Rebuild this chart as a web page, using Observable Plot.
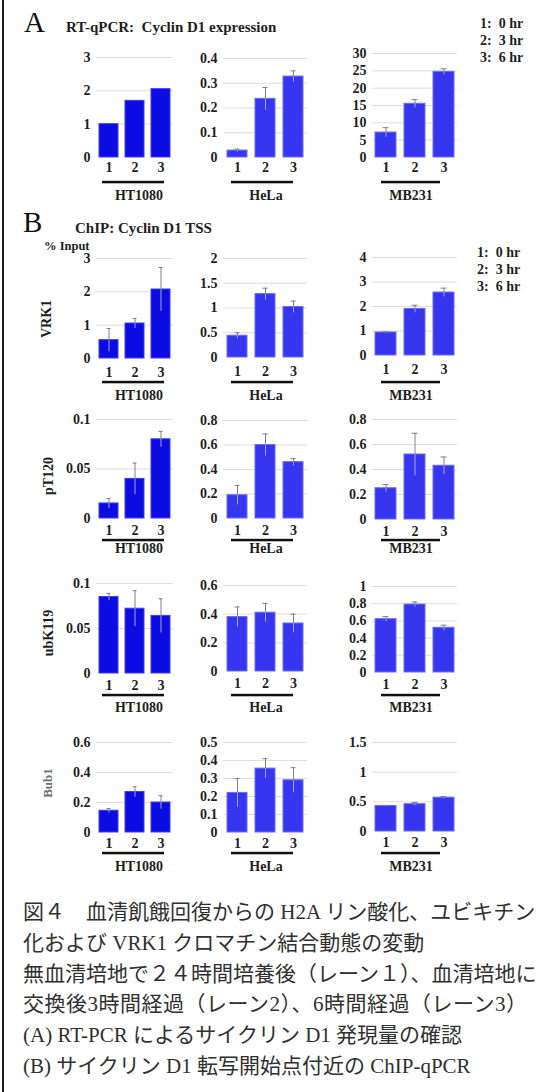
<!DOCTYPE html>
<html><head><meta charset="utf-8">
<script src="https://cdn.jsdelivr.net/npm/d3@7"></script>
<script src="https://cdn.jsdelivr.net/npm/@observablehq/plot@0.6"></script>
<style>
html,body{margin:0;padding:0;background:#fff;}
#fig{position:relative;width:551px;height:1092px;background:#fff;overflow:hidden;}
#fig svg{overflow:visible;}
.cap{position:absolute;left:23px;top:897px;width:504px;font-family:"Liberation Serif","Noto Sans CJK JP",serif;font-size:21px;line-height:30.8px;color:#303030;}
.cap div{white-space:nowrap;}
.cap .j{text-align:justify;text-align-last:justify;}
</style></head>
<body><div id="fig"></div>
<script>
// ---------- data ----------
const lanes = ["1", "2", "3"];
const cellLines = ["HT1080", "HeLa", "MB231"];
const timeLegend = ["1:  0 hr", "2:  3 hr", "3:  6 hr"];
const rowLabels = ["", "VRK1", "pT120", "ubK119", "Bub1"];

// A: RT-qPCR Cyclin D1 expression (HT1080, HeLa, MB231)
const rtqpcrMean  = [[1.0, 1.7, 2.05], [0.028, 0.237, 0.327], [7.2, 15.5, 24.7]];
const rtqpcrErr   = [[0, 0, 0], [0.006, 0.046, 0.023], [1.4, 1.2, 0.9]];
const rtqpcrTicks = [[0, 1, 2, 3], [0, 0.1, 0.2, 0.3, 0.4], [0, 5, 10, 15, 20, 25, 30]];

// B: ChIP VRK1
const vrk1Mean  = [[0.55, 1.05, 2.07], [0.44, 1.28, 1.02], [0.94, 1.9, 2.57]];
const vrk1Err   = [[0.35, 0.15, 0.66], [0.06, 0.12, 0.12], [0.03, 0.15, 0.18]];
const vrk1Ticks = [[0, 1, 2, 3], [0, 0.5, 1, 1.5, 2], [0, 1, 2, 3, 4]];

// B: ChIP pT120
const pt120Mean  = [[0.0152, 0.040, 0.080], [0.19, 0.60, 0.46], [0.25, 0.52, 0.43]];
const pt120Err   = [[0.005, 0.016, 0.008], [0.08, 0.09, 0.03], [0.03, 0.17, 0.07]];
const pt120Ticks = [[0, 0.05, 0.1], [0, 0.2, 0.4, 0.6, 0.8], [0, 0.2, 0.4, 0.6, 0.8]];

// B: ChIP ubK119
const ubk119Mean  = [[0.085, 0.072, 0.064], [0.38, 0.41, 0.335], [0.62, 0.79, 0.52]];
const ubk119Err   = [[0.004, 0.02, 0.019], [0.07, 0.065, 0.065], [0.03, 0.03, 0.03]];
const ubk119Ticks = [[0, 0.05, 0.1], [0, 0.2, 0.4, 0.6], [0, 0.2, 0.4, 0.6, 0.8, 1]];

// B: ChIP Bub1
const bub1Mean  = [[0.145, 0.27, 0.20], [0.22, 0.355, 0.29], [0.43, 0.46, 0.57]];
const bub1Err   = [[0.015, 0.035, 0.045], [0.08, 0.055, 0.07], [0.01, 0.03, 0.02]];
const bub1Ticks = [[0, 0.2, 0.4, 0.6], [0, 0.1, 0.2, 0.3, 0.4, 0.5], [0, 0.5, 1, 1.5]];

const captionLines = [
  "図４　血清飢餓回復からの H2A リン酸化、ユビキチン",
  "化および VRK1 クロマチン結合動態の変動",
  "無血清培地で２４時間培養後（レーン１）、血清培地に",
  "交換後3時間経過（レーン2）、6時間経過（レーン3）",
  "(A) RT-PCR によるサイクリン D1 発現量の確認",
  "(B) サイクリン D1 転写開始点付近の ChIP-qPCR"
];

// ---------- layout ----------
const rows = [
  {mean: rtqpcrMean, err: rtqpcrErr, ticks: rtqpcrTicks},
  {mean: vrk1Mean, err: vrk1Err, ticks: vrk1Ticks},
  {mean: pt120Mean, err: pt120Err, ticks: pt120Ticks},
  {mean: ubk119Mean, err: ubk119Err, ticks: ubk119Ticks},
  {mean: bub1Mean, err: bub1Err, ticks: bub1Ticks}
];
const colX = [[96, 173], [223, 307], [372, 457]];
const rowY = [
  [[57, 157], [58, 157], [53, 157]],
  [[258, 358], [258, 357], [257, 355]],
  [[419, 518], [420, 518], [419, 519]],
  [[583, 673], [585, 671], [586, 672]],
  [[742, 832], [742, 832], [742, 831]]
];
const xLabelPad = [4.5, 8.5, 6.5, 6.5, 5.5];
const underlineY = [182, 382, 540, 695, 853];
const nameY = [200, 400, 553, 712, 871];
const underlineX = [[102, 164], [231, 293], [381, 440]];
const nameX = [139, 266, 411];
const rowLabelPos = [null, [46, 319], [48, 476], [48, 633], [47, 783]];
const justifiedLines = [0, 2, 3];
const fillCol = ["#0b0be2", "#3636f0", "#3636f0"];
const strokeCol = ["#3c3cff", "#6a6aff", "#6a6aff"];

const fig = document.getElementById("fig");
const fmt = d => String(+(+d).toFixed(4));

rows.forEach((row, r) => {
  cellLines.forEach((cl, c) => {
    const data = lanes.map((lane, i) => ({lane, value: row.mean[c][i], err: row.err[c][i]}));
    const errData = data.filter(d => d.err > 0);
    const ticks = row.ticks[c];
    const [x0, x1] = colX[c];
    const [yt, yb] = rowY[r][c];
    const ml = 45, mr = 6, mt = 8, mb = 24;
    const svg = Plot.plot({
      width: x1 - x0 + ml + mr,
      height: yb - yt + mt + mb,
      marginLeft: ml, marginRight: mr, marginTop: mt, marginBottom: mb,
      style: {fontFamily: "'Liberation Serif', serif", fontSize: "14px", fontWeight: "bold", color: "#1e1e1e", background: "transparent", overflow: "visible"},
      x: {domain: lanes, paddingInner: 0.27, paddingOuter: 0.1},
      y: {domain: [0, d3.max(ticks)]},
      marks: [
        Plot.gridY(ticks.filter(t => t > 0), {stroke: "#dedede", strokeOpacity: 1, strokeWidth: 1}),
        Plot.barY(data, {x: "lane", y: "value", fill: fillCol[c], stroke: strokeCol[c], strokeWidth: 1}),
        Plot.ruleX(errData, {x: "lane", y1: "value", y2: d => Math.max(0, d.value - d.err), stroke: "#a4a4e4", strokeWidth: 1}),
        Plot.ruleX(errData, {x: "lane", y1: "value", y2: d => d.value + d.err, stroke: "#7e7e90", strokeWidth: 1}),
        Plot.tickY(errData, {x: "lane", y: d => d.value + d.err, stroke: "#7e7e90", strokeWidth: 1, insetLeft: 7.5, insetRight: 7.5}),
        Plot.axisY(ticks, {tickSize: 0, tickPadding: 6, tickFormat: fmt, label: null}),
        Plot.axisX({tickSize: 0, tickPadding: xLabelPad[r], label: null})
      ]
    });
    svg.style.position = "absolute";
    svg.style.left = (x0 - ml) + "px";
    svg.style.top = (yt - mt) + "px";
    fig.appendChild(svg);
  });
});

// ---------- annotations ----------
const ov = d3.select(fig).append("svg")
  .attr("width", 551).attr("height", 1092)
  .style("position", "absolute").style("left", "0px").style("top", "0px")
  .style("pointer-events", "none")
  .style("font-family", "'Liberation Serif', serif");

ov.append("rect").attr("x", 2).attr("y", 0).attr("width", 2).attr("height", 1092).attr("fill", "#1a1a1a");

ov.append("text").attr("x", 24).attr("y", 32).attr("font-size", 29).attr("fill", "#111").text("A");
ov.append("text").attr("x", 66).attr("y", 32).attr("font-size", 15).attr("font-weight", "bold").attr("fill", "#1e1e1e")
  .attr("xml:space", "preserve").style("white-space", "pre").text("RT-qPCR:  Cyclin D1 expression");
ov.append("text").attr("x", 23).attr("y", 232).attr("font-size", 29).attr("fill", "#111").text("B");
ov.append("text").attr("x", 75).attr("y", 233).attr("font-size", 15).attr("font-weight", "bold").attr("fill", "#1e1e1e").text("ChIP: Cyclin D1 TSS");
ov.append("text").attr("x", 44).attr("y", 250).attr("font-size", 12.5).attr("font-weight", "bold").attr("fill", "#1e1e1e").text("% Input");

[[480, 28], [477, 257]].forEach(([lx, ly]) => {
  timeLegend.forEach((t, i) => {
    ov.append("text").attr("x", lx).attr("y", ly + i * 16.8).attr("font-size", 14).attr("font-weight", "bold")
      .attr("fill", "#1e1e1e").attr("xml:space", "preserve").style("white-space", "pre").text(t);
  });
});

rows.forEach((row, r) => {
  cellLines.forEach((cl, c) => {
    const [ux0, ux1] = underlineX[c];
    ov.append("rect").attr("x", ux0).attr("y", underlineY[r] - 1.2).attr("width", ux1 - ux0).attr("height", 2.5).attr("fill", "#111");
    ov.append("text").attr("x", nameX[c]).attr("y", nameY[r]).attr("text-anchor", "middle")
      .attr("font-size", 14).attr("font-weight", "bold").attr("fill", "#1e1e1e").text(cl);
  });
  if (rowLabels[r]) {
    const [lx, ly] = rowLabelPos[r];
    ov.append("text").attr("transform", `translate(${lx},${ly}) rotate(-90)`)
      .attr("text-anchor", "middle").attr("dy", "0.35em")
      .attr("font-size", r === 4 ? 13 : 14).attr("font-weight", "bold")
      .attr("fill", r === 4 ? "#707070" : "#1e1e1e").text(rowLabels[r]);
  }
});

// caption
const cap = document.createElement("div");
cap.className = "cap";
captionLines.forEach((line, i) => {
  const d = document.createElement("div");
  if (justifiedLines.includes(i)) d.className = "j";
  d.textContent = line;
  cap.appendChild(d);
});
fig.appendChild(cap);
</script>
</body></html>
